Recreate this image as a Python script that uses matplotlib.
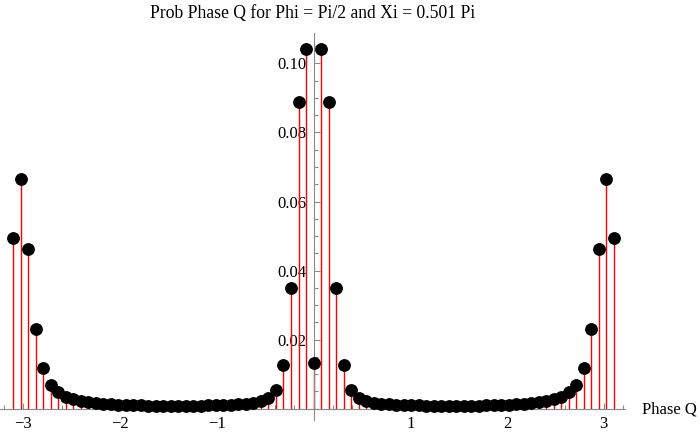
import numpy as np
import matplotlib
matplotlib.use("Agg")
import matplotlib.pyplot as plt
from matplotlib.ticker import FixedLocator, MultipleLocator, FormatStrFormatter

plt.rcParams['font.family'] = ['Liberation Serif', 'DejaVu Serif']

# Data: 81 phase bins centred on 0, width 2*pi/81
n_points = 81
half_bin = np.pi / n_points
phase_q = np.linspace(-np.pi + half_bin, np.pi - half_bin, n_points)
prob = [
    0.0493, 0.0664, 0.0462, 0.0230, 0.0117, 0.0068, 0.0047, 0.0035, 0.0027, 0.0022,
    0.0018, 0.0016, 0.0014, 0.0013, 0.0012, 0.0011, 0.0010, 0.0010, 0.0009, 0.0009,
    0.0009, 0.0008, 0.0008, 0.0009, 0.0009, 0.0009, 0.0010, 0.0010, 0.0011, 0.0012,
    0.0013, 0.0014, 0.0017, 0.0022, 0.0032, 0.0054, 0.0126, 0.0351, 0.0887, 0.1043,
    0.0133,
    0.1043, 0.0887, 0.0351, 0.0126, 0.0054, 0.0032, 0.0022, 0.0017, 0.0014, 0.0013,
    0.0012, 0.0011, 0.0010, 0.0010, 0.0009, 0.0009, 0.0009, 0.0008, 0.0008, 0.0009,
    0.0009, 0.0009, 0.0010, 0.0010, 0.0011, 0.0012, 0.0013, 0.0014, 0.0016, 0.0018,
    0.0022, 0.0027, 0.0035, 0.0047, 0.0068, 0.0117, 0.0230, 0.0462, 0.0664, 0.0493,
]
x_ticks = [-3, -2, -1, 1, 2, 3]
y_ticks = [0.02, 0.04, 0.06, 0.08, 0.10]

title = "Prob Phase Q for Phi = Pi/2 and Xi = 0.501 Pi"
x_label = "Phase Q"

fig = plt.figure(figsize=(7, 4.34), dpi=100)
ax = fig.add_axes([0.0, 0.032, 0.893, 0.892])

# stems + dots
ax.vlines(phase_q, 0, prob, color='red', lw=1.0, zorder=2)
ax.plot(phase_q, prob, 'o', color='black', markersize=8.2, zorder=3)

ax.set_xlim(-3.24, 3.22)
ax.set_ylim(-0.0033, 0.1088)

# Mathematica style axes crossing at the origin
axis_grey = '#8a8a8a'
for side in ['top', 'right']:
    ax.spines[side].set_visible(False)
ax.spines['left'].set_position(('data', 0))
ax.spines['bottom'].set_position(('data', 0))
for side in ['left', 'bottom']:
    ax.spines[side].set_color(axis_grey)
    ax.spines[side].set_linewidth(0.8)

ax.xaxis.set_major_locator(FixedLocator(x_ticks))
ax.xaxis.set_minor_locator(MultipleLocator(0.2))
ax.yaxis.set_major_locator(FixedLocator(y_ticks))
ax.yaxis.set_minor_locator(MultipleLocator(0.005))
ax.yaxis.set_major_formatter(FormatStrFormatter('%.2f'))

ax.tick_params(which='both', direction='in', color=axis_grey, width=0.8, labelsize=12)
ax.tick_params(which='major', length=4.5)
ax.tick_params(which='minor', length=2.8)
ax.tick_params(axis='x', which='major', pad=5)
ax.tick_params(axis='y', which='major', pad=5)

ax.set_title(title, fontsize=12.7, pad=10.5)
ax.annotate(x_label, xy=(1, 0), xycoords=('axes fraction', 'data'),
            xytext=(12.5, -3.5), textcoords='offset points',
            ha='left', va='baseline', fontsize=12, annotation_clip=False)

fig.savefig('out.png', dpi=100)
